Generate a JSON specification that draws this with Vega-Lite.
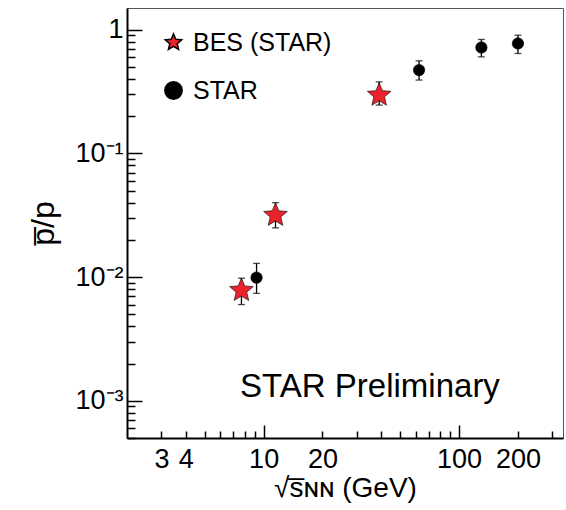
{
  "$schema": "https://vega.github.io/schema/vega-lite/v6.json",
  "width": 436,
  "height": 430,
  "autosize": "none",
  "padding": {"left": 127, "top": 8, "right": 3, "bottom": 72},
  "config": {
    "font": "Liberation Sans",
    "view": {"stroke": "#555", "strokeWidth": 1},
    "axis": {"grid": false, "domainColor": "black", "domainWidth": 2, "tickColor": "black", "tickWidth": 1.5, "labelColor": "black", "titleColor": "black", "labelFont": "Liberation Sans", "titleFont": "Liberation Sans", "titleFontWeight": "normal"}
  },
  "data": {
    "values": [
      {"series": "BES (STAR)", "energy": 7.7, "ratio": 0.0078, "lo": 0.0060, "hi": 0.0098},
      {"series": "BES (STAR)", "energy": 11.5, "ratio": 0.0316, "lo": 0.025, "hi": 0.040},
      {"series": "BES (STAR)", "energy": 39, "ratio": 0.296, "lo": 0.246, "hi": 0.379},
      {"series": "STAR", "energy": 9.2, "ratio": 0.0099, "lo": 0.0074, "hi": 0.0129},
      {"series": "STAR", "energy": 62.4, "ratio": 0.472, "lo": 0.392, "hi": 0.561},
      {"series": "STAR", "energy": 130, "ratio": 0.719, "lo": 0.604, "hi": 0.835},
      {"series": "STAR", "energy": 200, "ratio": 0.775, "lo": 0.643, "hi": 0.904}
    ]
  },
  "encoding": {
    "x": {
      "field": "energy", "type": "quantitative", "title": "√s̅ɴɴ (GeV)",
      "scale": {"type": "log", "domain": [2, 340], "nice": false},
      "axis": {
        "values": [3, 4, 5, 6, 7, 8, 9, 10, 20, 30, 40, 50, 60, 70, 80, 90, 100, 200, 300],
        "labelExpr": "indexof([3,4,10,20,100,200], datum.value) >= 0 ? format(datum.value, 'd') : ''",
        "tickSize": {"condition": {"test": "datum.value == 10 || datum.value == 100", "value": -13}, "value": -7},
        "labelPadding": {"condition": {"test": "datum.value == 10 || datum.value == 100", "value": 21}, "value": 15},
        "labelFontSize": 27,
        "labelFlush": false,
        "labelOverlap": false,
        "titleFontSize": 28,
        "titlePadding": 2
      }
    },
    "y": {
      "field": "ratio", "type": "quantitative", "title": "p̅/p",
      "scale": {"type": "log", "domain": [0.0005, 1.5], "nice": false},
      "axis": {
        "values": [0.0005, 0.0006, 0.0007, 0.0008, 0.0009, 0.001, 0.002, 0.003, 0.004, 0.005, 0.006, 0.007, 0.008, 0.009, 0.01, 0.02, 0.03, 0.04, 0.05, 0.06, 0.07, 0.08, 0.09, 0.1, 0.2, 0.3, 0.4, 0.5, 0.6, 0.7, 0.8, 0.9, 1],
        "labelExpr": "datum.value == 1 ? '1' : datum.value == 0.1 ? '10⁻¹' : datum.value == 0.01 ? '10⁻²' : datum.value == 0.001 ? '10⁻³' : ''",
        "tickSize": {"condition": {"test": "datum.value == 1 || datum.value == 0.1 || datum.value == 0.01 || datum.value == 0.001", "value": -15}, "value": -8},
        "labelPadding": {"condition": {"test": "datum.value == 1 || datum.value == 0.1 || datum.value == 0.01 || datum.value == 0.001", "value": 19}, "value": 12},
        "labelFontSize": 27,
        "labelFlush": false,
        "labelOverlap": false,
        "titleFontSize": 32,
        "titlePadding": 14
      }
    }
  },
  "layer": [
    {
      "mark": {"type": "errorbar", "color": "black", "thickness": 1.3, "ticks": {"size": 7, "thickness": 1.3}},
      "encoding": {"y": {"field": "lo", "type": "quantitative"}, "y2": {"field": "hi"}}
    },
    {
      "mark": {"type": "point", "filled": true, "opacity": 1, "stroke": "black", "strokeWidth": 0.6},
      "encoding": {
        "shape": {"field": "series", "type": "nominal", "scale": {"domain": ["BES (STAR)", "STAR"], "range": ["M0,-1L0.2645,-0.364L0.951,-0.309L0.428,0.139L0.588,0.809L0,0.45L-0.588,0.809L-0.428,0.139L-0.951,-0.309L-0.2645,-0.364Z", "circle"]}},
        "color": {
          "field": "series", "type": "nominal",
          "scale": {"domain": ["BES (STAR)", "STAR"], "range": ["#e8232b", "black"]},
          "legend": {"orient": "none", "legendX": 34, "legendY": 22, "title": null, "labelFontSize": 25, "labelColor": "black", "rowPadding": 22, "labelOffset": 7, "symbolSize": 300}
        },
        "size": {"condition": {"test": "datum.series == 'STAR'", "value": 130}, "value": 620}
      }
    },
    {
      "data": {"values": [{"note": "STAR Preliminary", "energy": 35, "ratio": 0.0013}]},
      "mark": {"type": "text", "fontSize": 33, "color": "black"},
      "encoding": {"text": {"field": "note"}}
    }
  ]
}
